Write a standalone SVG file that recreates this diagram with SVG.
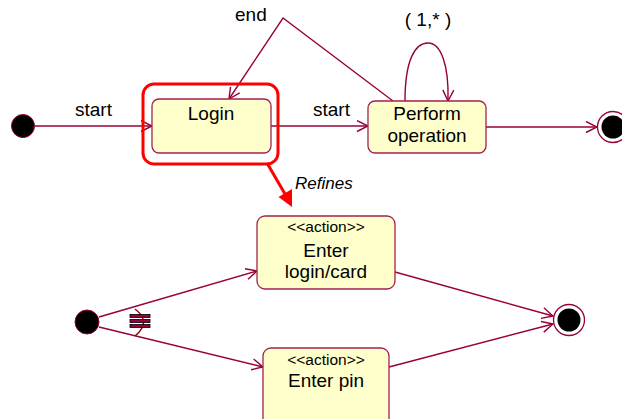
<svg xmlns="http://www.w3.org/2000/svg" width="622" height="419" viewBox="0 0 622 419">
<style>
.t{font-family:"Liberation Sans",Arial,sans-serif;font-size:19px;fill:#000}
.s{font-family:"Liberation Sans",Arial,sans-serif;font-size:15.5px;fill:#000}
.i{font-family:"Liberation Sans",Arial,sans-serif;font-size:17px;font-style:italic;fill:#000}
.box{fill:#FFFFCC;stroke:#A3214F;stroke-width:1.3}
.ln{fill:none;stroke:#99003D;stroke-width:1.4}
.ini{fill:#000;stroke:#99003D;stroke-width:1}
.fo{fill:#fff;stroke:#99003D;stroke-width:1.3}
</style>
<defs>
<marker id="ah" viewBox="0 0 13 13" refX="12" refY="6.5" markerWidth="13" markerHeight="13" markerUnits="userSpaceOnUse" orient="auto">
<path d="M1,1 L12,6.5 L1,12" fill="none" stroke="#99003D" stroke-width="1.4"/>
</marker>
</defs>
<g id="connectors">
<line class="ln" x1="35" y1="126" x2="152" y2="126" marker-end="url(#ah)"/>
<line class="ln" x1="271" y1="126" x2="368" y2="126" marker-end="url(#ah)"/>
<line class="ln" x1="486" y1="127" x2="597" y2="127" marker-end="url(#ah)"/>
<polyline class="ln" points="393,101 283,18 229,99" marker-end="url(#ah)"/>
<path class="ln" d="M405,101 C405,60 415,43 428,43 C441,43 449,65 448,101" marker-end="url(#ah)"/>
<line x1="267" y1="163" x2="285" y2="194" stroke="#FF0000" stroke-width="3"/>
<polygon points="278.5,197 292,189 292,207" fill="#FF0000"/>
<line class="ln" x1="99" y1="317" x2="257" y2="271" marker-end="url(#ah)"/>
<line class="ln" x1="99" y1="327" x2="263" y2="367" marker-end="url(#ah)"/>
<line class="ln" x1="395" y1="272" x2="553" y2="316" marker-end="url(#ah)"/>
<line class="ln" x1="389" y1="367" x2="553" y2="324" marker-end="url(#ah)"/>
<path d="M135,309 Q152,322 135,336" fill="none" stroke="#A00000" stroke-width="1.5"/>
<g fill="#99003D" stroke="#000" stroke-width="0.8">
<rect x="130" y="314.5" width="20" height="3"/>
<rect x="130" y="319.5" width="20" height="3"/>
<rect x="130" y="324.5" width="20" height="3"/>
</g>
<text class="t" x="235" y="21">end</text>
<text class="t" x="428" y="26" text-anchor="middle">( 1,* )</text>
<text class="t" x="75" y="116">start</text>
<text class="t" x="313" y="116">start</text>
<text class="i" x="295" y="189">Refines</text>
</g>
<g id="init1"><circle class="ini" cx="23" cy="126" r="11.5"/></g>
<g id="login">
<rect x="143" y="84" width="135" height="80" rx="11" fill="none" stroke="#FF0000" stroke-width="3"/>
<rect class="box" x="152" y="99" width="119" height="54" rx="7"/>
<text class="t" x="211" y="120" text-anchor="middle">Login</text>
</g>
<g id="perform">
<rect class="box" x="368" y="101" width="118" height="52" rx="7"/>
<text class="t" x="427" y="120" text-anchor="middle">Perform</text>
<text class="t" x="427" y="142" text-anchor="middle">operation</text>
</g>
<g id="final1">
<circle class="fo" cx="613" cy="127" r="15.5"/>
<circle cx="613" cy="127" r="11.5" fill="#000"/>
</g>
<g id="init2"><circle class="ini" cx="87" cy="322" r="12"/></g>
<g id="enterLogin">
<rect class="box" x="257" y="216" width="138" height="73" rx="8"/>
<text class="s" x="326" y="232" text-anchor="middle">&lt;&lt;action&gt;&gt;</text>
<text class="t" x="326" y="257" text-anchor="middle">Enter</text>
<text class="t" x="326" y="278" text-anchor="middle">login/card</text>
</g>
<g id="enterPin">
<rect class="box" x="263" y="348" width="126" height="80" rx="8"/>
<text class="s" x="326" y="365" text-anchor="middle">&lt;&lt;action&gt;&gt;</text>
<text class="t" x="326" y="387" text-anchor="middle">Enter pin</text>
</g>
<g id="final2">
<circle class="fo" cx="569" cy="320" r="15.5"/>
<circle cx="569" cy="320" r="11.5" fill="#000"/>
</g>
</svg>
